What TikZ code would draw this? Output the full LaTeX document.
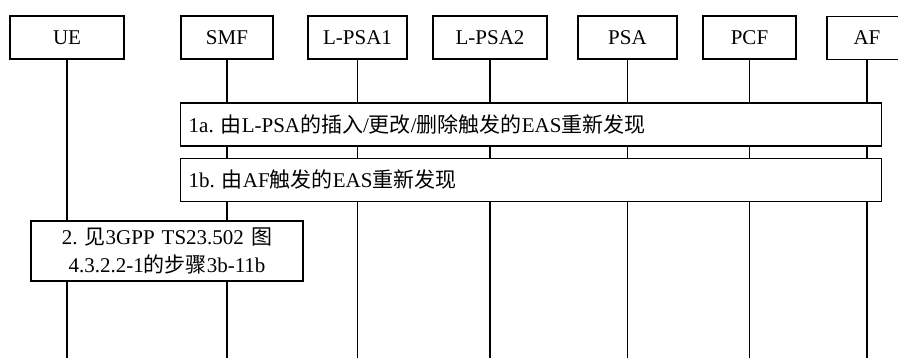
\documentclass[tikz,border=0pt]{standalone}
\usepackage{fontspec}
\setmainfont{Liberation Serif}
\newfontfamily\cjk{Noto Sans CJK SC}
\newcommand{\zh}[1]{{\cjk #1}}
\frenchspacing
\usepackage{tikz}
\usetikzlibrary{positioning}
\tikzset{
  node-head/.style={draw,line width=1.4pt,minimum height=43pt,inner sep=0pt,
    align=center,font=\fontsize{21pt}{25pt}\selectfont},
  node-step/.style={draw,line width=1.4pt,fill=white,inner xsep=8pt,inner ysep=0pt,
    minimum height=43pt,font=\fontsize{21pt}{28pt}\selectfont},
  lifeline/.style={line width=1.4pt},
}

\begin{document}
\begin{tikzpicture}[x=1pt,y=-1pt]
  \useasboundingbox (0,0) rectangle (898,358);
  \node[node-head,minimum width=114pt] (ue) at (67,37.5) {UE};
  \node[node-head,minimum width=92pt] (smf) at (227,37.5) {SMF};
  \node[node-head,minimum width=99pt] (lpsa1) at (357.5,37.5) {L-PSA1};
  \node[node-head,minimum width=114pt] (lpsa2) at (490,37.5) {L-PSA2};
  \node[node-head,minimum width=99pt] (psa) at (627.5,37.5) {PSA};
  \node[node-head,minimum width=93pt] (pcf) at (749.5,37.5) {PCF};
  \node[node-head,minimum width=80pt] (af) at (867,38) {AF};
  \coordinate (bottom) at (0,362);
  % lifelines
  \draw[lifeline] (ue) -- (ue |- bottom);
  \draw[lifeline] (smf) -- (smf |- bottom);
  \draw[lifeline] (lpsa1) -- (lpsa1 |- bottom);
  \draw[lifeline] (lpsa2) -- (lpsa2 |- bottom);
  \draw[lifeline] (psa) -- (psa |- bottom);
  \draw[lifeline] (pcf) -- (pcf |- bottom);
  \draw[lifeline] (af) -- (af |- bottom);
  % steps
  \node[node-step,text width=685pt,align=left,anchor=west] (step1a) at (180,124.5)
    {1a. \zh{由}L-PSA\zh{的插入}/\zh{更改}/\zh{删除触发的}EAS\zh{重新发现}};
  \node[node-step,text width=685pt,align=left,below=11pt of step1a] (step1b)
    {1b. \zh{由}AF\zh{触发的}EAS\zh{重新发现}};
  \node[node-step,text width=256pt,align=center,minimum height=60pt] (step2) at (167,251)
    {2. \zh{见}3GPP TS23.502 \zh{图}\\4.3.2.2-1\zh{的步骤}3b-11b};
\end{tikzpicture}
\end{document}
